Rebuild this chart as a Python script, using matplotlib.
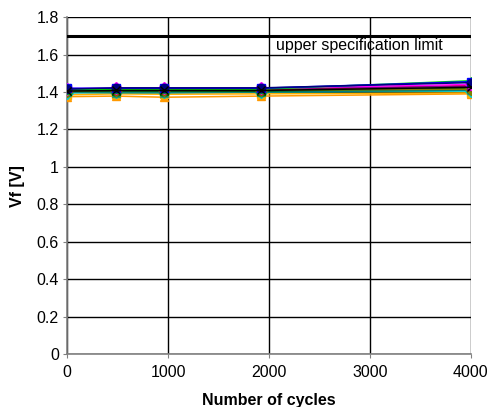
import matplotlib
matplotlib.use("Agg")
import matplotlib.pyplot as plt

plt.rcParams['font.family'] = ['Liberation Sans', 'DejaVu Sans']

cycles = [0, 480, 960, 1920, 4000]
spec_limit = 1.7
spec_label = "upper specification limit"

series = {
    "s01": [1.375, 1.378, 1.372, 1.378, 1.390],
    "s02": [1.385, 1.390, 1.388, 1.390, 1.395],
    "s03": [1.395, 1.398, 1.398, 1.400, 1.405],
    "s04": [1.400, 1.395, 1.395, 1.400, 1.410],
    "s05": [1.400, 1.400, 1.400, 1.400, 1.410],
    "s06": [1.405, 1.405, 1.405, 1.405, 1.420],
    "s07": [1.405, 1.410, 1.410, 1.410, 1.415],
    "s08": [1.410, 1.410, 1.410, 1.410, 1.435],
    "s09": [1.415, 1.418, 1.418, 1.418, 1.430],
    "s10": [1.418, 1.420, 1.420, 1.420, 1.440],
    "s11": [1.410, 1.415, 1.415, 1.415, 1.460],
    "s12": [1.420, 1.420, 1.420, 1.420, 1.455],
    "s13": [1.415, 1.422, 1.422, 1.422, 1.450],
    "s14": [1.405, 1.408, 1.408, 1.408, 1.425],
}

styles = [
    ("#FF9900", "^"), ("#FFB000", "s"), ("#00CCCC", "D"), ("#339966", "^"),
    ("#008080", "o"), ("#006600", "s"), ("#808000", "D"), ("#CC0000", "o"),
    ("#800080", "s"), ("#FF00FF", "D"), ("#00DD00", "^"), ("#0000FF", "s"),
    ("#000080", "o"), ("#000000", "x"),
]

fig = plt.figure(figsize=(4.9, 4.07), dpi=100)
ax = fig.add_axes([0.137, 0.130, 0.824, 0.828])

for (name, vals), (c, m) in zip(series.items(), styles):
    ax.plot(cycles, vals, color=c, marker=m, markersize=6, linewidth=1.1,
            markeredgecolor=c, zorder=3)

ax.plot([cycles[0], cycles[-1]], [spec_limit, spec_limit], color="black", linewidth=2.2, zorder=4)
ax.text(2065, 1.650, spec_label, fontsize=11.5, va="center", ha="left")

ax.set_xlim(0, 4000)
ax.set_ylim(0, 1.8)
ax.set_xticks([0, 1000, 2000, 3000, 4000])
ax.set_yticks([0, 0.2, 0.4, 0.6, 0.8, 1.0, 1.2, 1.4, 1.6, 1.8])
ax.set_yticklabels(["0", "0.2", "0.4", "0.6", "0.8", "1", "1.2", "1.4", "1.6", "1.8"])
ax.grid(True, color="black", linewidth=1.0)
ax.set_axisbelow(True)
for s in ["top", "right"]:
    ax.spines[s].set_visible(False)
for s in ["left", "bottom"]:
    ax.spines[s].set_color("#808080")
    ax.spines[s].set_linewidth(1.2)
ax.tick_params(axis="both", labelsize=11.5, length=3, color="#808080")
ax.tick_params(axis="x", pad=5)
ax.tick_params(axis="y", pad=3)
ax.set_xlabel("Number of cycles", fontsize=11.5, fontweight="bold", labelpad=9)
ax.set_ylabel("Vf [V]", fontsize=11.5, fontweight="bold", labelpad=8)

fig.savefig("out.png", dpi=100)
